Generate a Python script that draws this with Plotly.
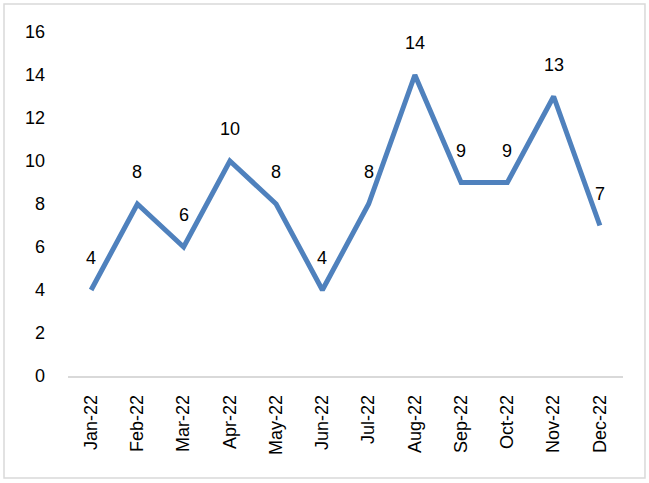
import plotly.graph_objects as go

months = ["Jan-22", "Feb-22", "Mar-22", "Apr-22", "May-22", "Jun-22",
          "Jul-22", "Aug-22", "Sep-22", "Oct-22", "Nov-22", "Dec-22"]
counts = [4, 8, 6, 10, 8, 4, 8, 14, 9, 9, 13, 7]
y_ticks = [0, 2, 4, 6, 8, 10, 12, 14, 16]

FONT = "Liberation Sans"
LINE_BLUE = "#4F81BD"

fig = go.Figure()
fig.add_trace(go.Scatter(
    x=months, y=counts, mode="lines",
    line=dict(color=LINE_BLUE, width=5),
    hoverinfo="x+y",
))

# value labels above each point
for m, v in zip(months, counts):
    fig.add_annotation(x=m, y=v, text=str(v), showarrow=False,
                       yshift=32, font=dict(family=FONT, size=18, color="#000000"))

# thin chart-area border
fig.add_shape(type="rect", xref="paper", yref="paper",
              x0=-0.1153, x1=1.0396, y0=-0.2965, y1=1.0814,
              line=dict(color="#D9D9D9", width=1.5), fillcolor="rgba(0,0,0,0)")

fig.update_layout(
    width=649, height=483,
    margin=dict(l=68, r=26, t=32, b=107),
    paper_bgcolor="white", plot_bgcolor="white",
    showlegend=False,
    font=dict(family=FONT, size=18, color="#000000"),
    xaxis=dict(
        type="category", tickangle=-90, showgrid=False,
        range=[-0.5, len(months) - 0.5],
        showline=True, linecolor="#D9D9D9", linewidth=1.5,
        ticks="", ticklabelstandoff=10,
        tickfont=dict(family=FONT, size=18, color="#000000"),
        fixedrange=True,
    ),
    yaxis=dict(
        range=[0, 16], tickvals=y_ticks, showgrid=False,
        showline=False, zeroline=False, ticks="",
        ticklabelstandoff=22,
        tickfont=dict(family=FONT, size=18, color="#000000"),
        fixedrange=True,
    ),
)

fig.write_html("out.html")
